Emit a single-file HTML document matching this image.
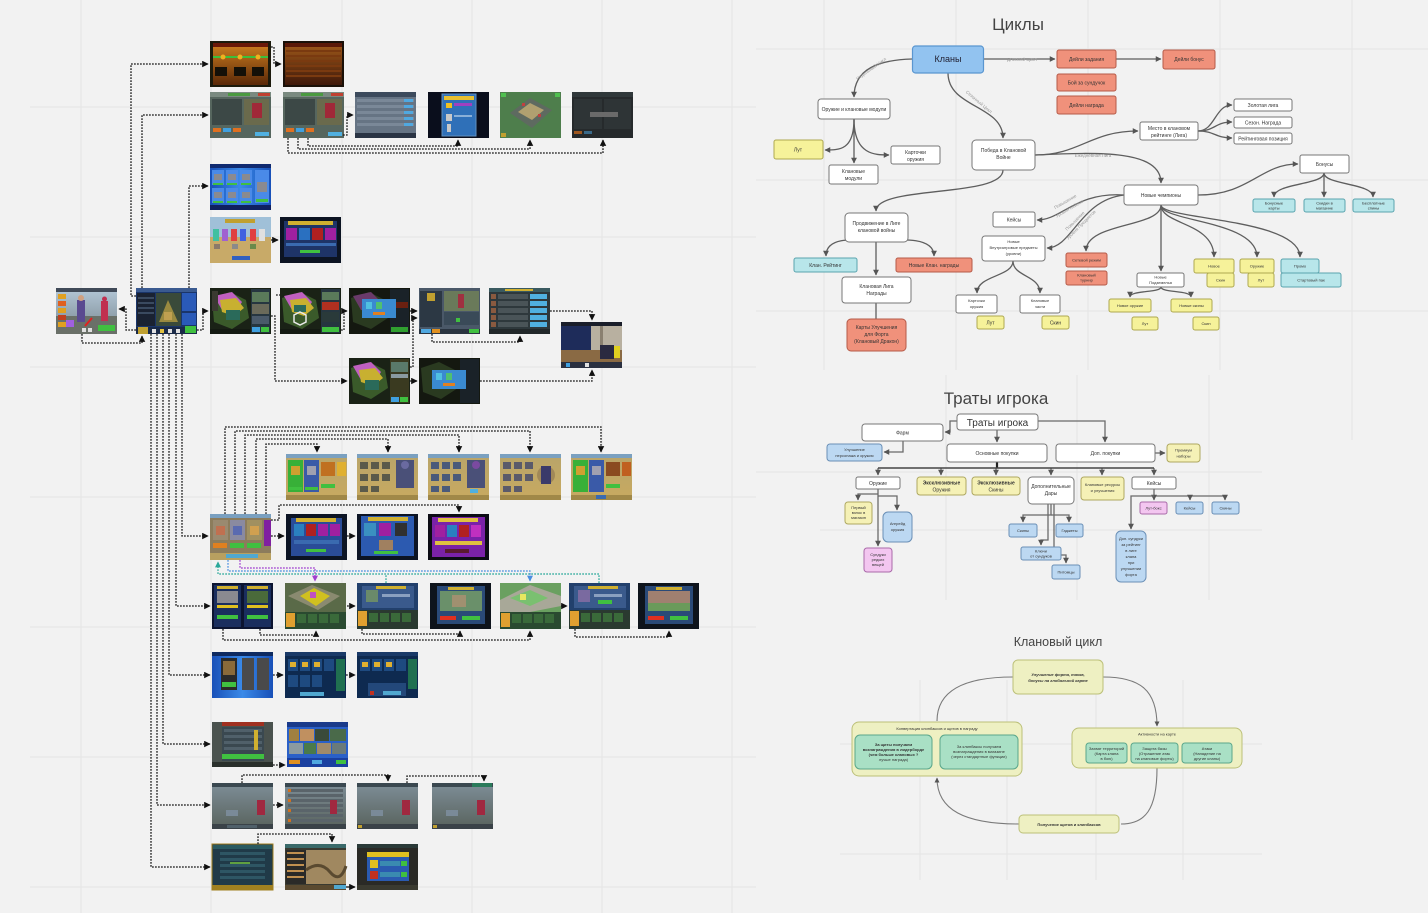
<!DOCTYPE html>
<html><head><meta charset="utf-8"><style>
html,body{margin:0;padding:0;background:#f2f2f2;}
svg{display:block;}
text{font-family:"Liberation Sans","DejaVu Sans",sans-serif;}
.g{stroke:#e4e4e4;stroke-width:1;}
.d{fill:none;stroke:#1a1a1a;stroke-width:1.3;stroke-dasharray:1.8 1.2;}
.c{fill:none;stroke:#5e5e5e;stroke-width:1.3;}
.t{fill:none;stroke:#6a6a6a;stroke-width:1.3;}
.k{fill:none;stroke:#7a7a7a;stroke-width:1.1;}
.w{fill:#fff;stroke:#777;stroke-width:1;}
.r{fill:#f0917b;stroke:#b55a48;stroke-width:1;}
.y{fill:#f6f29a;stroke:#aea850;stroke-width:1;}
.tl{fill:#b8e6ea;stroke:#5aa4ae;stroke-width:1;}
.b{fill:#bcd8f2;stroke:#6a8fb6;stroke-width:1;}
.p{fill:#f3c6f0;stroke:#a96aa9;stroke-width:1;}
.yl{fill:#f5f1b6;stroke:#aea860;stroke-width:1;}
.ol{fill:#eef0c2;stroke:#bcc078;stroke-width:1;}
.gr{fill:#a9e0c5;stroke:#5aa68a;stroke-width:1;}
.s{font-size:5px;fill:#333;text-anchor:middle;}
.s4{font-size:4px;fill:#333;text-anchor:middle;}
.lb{font-size:4.5px;fill:#999;text-anchor:middle;}
</style></head><body>
<svg width="1428" height="913" viewBox="0 0 1428 913" xmlns="http://www.w3.org/2000/svg">
<defs>
<marker id="a" viewBox="0 0 10 10" refX="9" refY="5" markerWidth="5" markerHeight="5" orient="auto"><path d="M0,0L10,5L0,10z" fill="#111"/></marker>
<marker id="ga" viewBox="0 0 10 10" refX="9" refY="5" markerWidth="4.5" markerHeight="4.5" orient="auto"><path d="M0,0L10,5L0,10z" fill="#555"/></marker>
<marker id="ta" viewBox="0 0 10 10" refX="9" refY="5" markerWidth="5" markerHeight="5" orient="auto"><path d="M0,0L10,5L0,10z" fill="#2aa89a"/></marker>
<marker id="ba" viewBox="0 0 10 10" refX="9" refY="5" markerWidth="5" markerHeight="5" orient="auto"><path d="M0,0L10,5L0,10z" fill="#4a8ee0"/></marker>
<marker id="pa" viewBox="0 0 10 10" refX="9" refY="5" markerWidth="5" markerHeight="5" orient="auto"><path d="M0,0L10,5L0,10z" fill="#a040d0"/></marker>
<linearGradient id="gOr" x1="0" y1="0" x2="0" y2="1"><stop offset="0" stop-color="#d08020"/><stop offset="1" stop-color="#5a2808"/></linearGradient>
<linearGradient id="gBr" x1="0" y1="0" x2="0" y2="1"><stop offset="0" stop-color="#a05a1a"/><stop offset="1" stop-color="#3e180a"/></linearGradient>
<linearGradient id="gSky" x1="0" y1="0" x2="0" y2="1"><stop offset="0" stop-color="#b4c8d8"/><stop offset="1" stop-color="#7a8890"/></linearGradient>
<linearGradient id="gFog" x1="0" y1="0" x2="0" y2="1"><stop offset="0" stop-color="#7e8e98"/><stop offset="1" stop-color="#58625c"/></linearGradient>
<linearGradient id="gSand" x1="0" y1="0" x2="0" y2="1"><stop offset="0" stop-color="#b8a46a"/><stop offset="1" stop-color="#c8aa60"/></linearGradient>
<linearGradient id="gBlue" x1="0" y1="0" x2="1" y2="0"><stop offset="0" stop-color="#1850b8"/><stop offset="0.5" stop-color="#3a8ae8"/><stop offset="1" stop-color="#1850b8"/></linearGradient>
</defs>

<!-- background grid -->
<g class="g">
<line x1="81" y1="0" x2="81" y2="913"/><line x1="211" y1="0" x2="211" y2="913"/><line x1="342" y1="0" x2="342" y2="913"/>
<line x1="472" y1="0" x2="472" y2="913"/><line x1="602" y1="0" x2="602" y2="913"/><line x1="732" y1="0" x2="732" y2="913"/>
<line x1="30" y1="107" x2="756" y2="107"/><line x1="30" y1="237" x2="756" y2="237"/><line x1="30" y1="367" x2="756" y2="367"/>
<line x1="30" y1="497" x2="756" y2="497"/><line x1="30" y1="627" x2="756" y2="627"/><line x1="30" y1="757" x2="756" y2="757"/>
<line x1="30" y1="887" x2="756" y2="887"/>
<line x1="824" y1="0" x2="824" y2="370"/><line x1="956" y1="0" x2="956" y2="370"/><line x1="1088" y1="0" x2="1088" y2="370"/>
<line x1="1220" y1="0" x2="1220" y2="370"/><line x1="1352" y1="0" x2="1352" y2="440"/>
<line x1="756" y1="49" x2="1428" y2="49"/><line x1="756" y1="180" x2="1428" y2="180"/><line x1="756" y1="311" x2="1428" y2="311"/>
<line x1="946" y1="375" x2="946" y2="600"/><line x1="1077" y1="375" x2="1077" y2="600"/><line x1="1209" y1="375" x2="1209" y2="600"/>
<line x1="756" y1="472" x2="1262" y2="472"/><line x1="820" y1="530" x2="1262" y2="530"/>
<line x1="920" y1="680" x2="920" y2="880"/><line x1="1007" y1="680" x2="1007" y2="880"/><line x1="1096" y1="680" x2="1096" y2="880"/><line x1="1183" y1="680" x2="1183" y2="880"/>
<line x1="840" y1="744" x2="1262" y2="744"/><line x1="840" y1="854" x2="1262" y2="854"/>
</g>

<!-- ================= SCREENSHOTS ================= -->
<!-- Row 1 -->
<rect x="210" y="41" width="61" height="46" fill="#1c1a0c"/>
<rect x="213" y="43" width="55" height="42" fill="url(#gOr)"/>
<rect x="213" y="43" width="55" height="4" fill="#6a1808"/>
<rect x="213" y="56" width="55" height="2" fill="#3cc03c"/>
<circle cx="223" cy="57" r="2.5" fill="#f0b020"/><circle cx="240" cy="57" r="2.5" fill="#f0b020"/><circle cx="258" cy="57" r="2.5" fill="#f0b020"/>
<rect x="215" y="67" width="12" height="9" fill="#141008"/><rect x="234" y="67" width="12" height="9" fill="#141008"/><rect x="252" y="67" width="12" height="9" fill="#141008"/>
<rect x="283" y="41" width="61" height="46" fill="#1a1008"/>
<rect x="285" y="43" width="57" height="42" fill="url(#gBr)"/>
<rect x="285" y="43" width="57" height="4" fill="#5a1808"/>
<g fill="#7a3a10"><rect x="286" y="50" width="55" height="2"/><rect x="286" y="55" width="55" height="2"/><rect x="286" y="60" width="55" height="2"/><rect x="286" y="65" width="55" height="2"/><rect x="286" y="70" width="55" height="2"/><rect x="286" y="75" width="55" height="2"/></g>

<!-- Row 2 -->
<g>
<rect x="210" y="92" width="61" height="46" fill="#56665e"/><rect x="210" y="92" width="61" height="5" fill="#7a8a80"/>
<rect x="228" y="93" width="22" height="3" fill="#4a9a40"/><rect x="258" y="93" width="12" height="3" fill="#c04030"/>
<rect x="212" y="99" width="30" height="26" fill="#3c4846"/><rect x="244" y="99" width="25" height="26" fill="#6a6a4c"/>
<rect x="252" y="103" width="10" height="15" fill="#a02838"/>
<rect x="213" y="128" width="8" height="4" fill="#e07020"/><rect x="223" y="128" width="8" height="4" fill="#40a0e0"/><rect x="233" y="128" width="8" height="4" fill="#e07020"/><rect x="255" y="132" width="14" height="4" fill="#50b0e0"/>
</g>
<g>
<rect x="283" y="92" width="61" height="46" fill="#56665e"/><rect x="283" y="92" width="61" height="5" fill="#7a8a80"/>
<rect x="301" y="93" width="22" height="3" fill="#4a9a40"/><rect x="331" y="93" width="12" height="3" fill="#c04030"/>
<rect x="285" y="99" width="30" height="26" fill="#3c4846"/><rect x="317" y="99" width="25" height="26" fill="#6a6a4c"/>
<rect x="325" y="103" width="10" height="15" fill="#a02838"/>
<rect x="286" y="128" width="8" height="4" fill="#e07020"/><rect x="296" y="128" width="8" height="4" fill="#40a0e0"/><rect x="306" y="128" width="8" height="4" fill="#e07020"/><rect x="328" y="132" width="14" height="4" fill="#50b0e0"/>
</g>
<g>
<rect x="355" y="92" width="61" height="46" fill="#667484"/><rect x="355" y="92" width="61" height="5" fill="#3c4a5c"/>
<g fill="#7a8898"><rect x="357" y="99" width="57" height="3"/><rect x="357" y="105" width="57" height="3"/><rect x="357" y="111" width="57" height="3"/><rect x="357" y="117" width="57" height="3"/><rect x="357" y="123" width="57" height="3"/></g>
<g fill="#50a8e0"><rect x="404" y="99" width="9" height="3"/><rect x="404" y="105" width="9" height="3"/><rect x="404" y="111" width="9" height="3"/><rect x="404" y="117" width="9" height="3"/><rect x="404" y="123" width="9" height="3"/></g>
<rect x="355" y="133" width="61" height="5" fill="#2a3444"/>
</g>
<g>
<rect x="428" y="92" width="61" height="46" fill="#0a0e1c"/>
<rect x="442" y="94" width="34" height="42" fill="#2f70b8" stroke="#6090c0"/>
<rect x="444" y="96" width="30" height="4" fill="#e8c030"/>
<rect x="446" y="103" width="6" height="5" fill="#f0c020"/><rect x="454" y="103" width="18" height="3" fill="#a040c0"/>
<rect x="446" y="114" width="6" height="7" fill="#c8c8c8"/><rect x="454" y="115" width="18" height="2" fill="#8ab0d8"/>
<rect x="447" y="124" width="4" height="8" fill="#c8c8c8"/>
</g>
<g>
<rect x="500" y="92" width="61" height="46" fill="#4e7e4c"/>
<polygon points="510,113 530,98 552,110 532,128" fill="#5e6a60"/>
<polygon points="518,112 530,103 544,110 532,120" fill="#b0a070"/>
<rect x="522" y="103" width="3" height="3" fill="#c04040"/><rect x="538" y="114" width="3" height="3" fill="#c04040"/>
<rect x="501" y="93" width="5" height="4" fill="#50c050"/><rect x="555" y="93" width="5" height="4" fill="#50c050"/><rect x="501" y="133" width="5" height="4" fill="#c0a030"/>
</g>
<g>
<rect x="572" y="92" width="61" height="46" fill="#262a2c"/><rect x="572" y="92" width="61" height="5" fill="#30383a"/>
<rect x="574" y="99" width="28" height="30" fill="#2e3436"/><rect x="604" y="99" width="27" height="30" fill="#2e3436"/>
<rect x="590" y="112" width="28" height="5" fill="#6a6a6a"/>
<rect x="574" y="131" width="8" height="3" fill="#a05820"/><rect x="584" y="131" width="8" height="3" fill="#3a6a8a"/>
</g>

<!-- Row 3 -->
<g>
<rect x="210" y="164" width="61" height="46" fill="url(#gBlue)"/><rect x="210" y="164" width="61" height="4" fill="#102a70"/>
<g fill="#4a8ae8"><rect x="212" y="170" width="12" height="15"/><rect x="226" y="170" width="12" height="15"/><rect x="240" y="170" width="12" height="15"/><rect x="212" y="188" width="12" height="15"/><rect x="226" y="188" width="12" height="15"/><rect x="240" y="188" width="12" height="15"/><rect x="255" y="170" width="14" height="33"/></g>
<g fill="#8a8a90"><rect x="214" y="174" width="8" height="6"/><rect x="228" y="174" width="8" height="6"/><rect x="242" y="174" width="8" height="6"/><rect x="214" y="192" width="8" height="6"/><rect x="228" y="192" width="8" height="6"/><rect x="242" y="192" width="8" height="6"/><rect x="257" y="182" width="10" height="10"/></g>
<g fill="#40c040"><rect x="213" y="183" width="10" height="2"/><rect x="227" y="183" width="10" height="2"/><rect x="241" y="183" width="10" height="2"/><rect x="213" y="201" width="10" height="2"/><rect x="227" y="201" width="10" height="2"/><rect x="241" y="201" width="10" height="2"/><rect x="256" y="199" width="12" height="3"/></g>
<rect x="210" y="205" width="61" height="5" fill="#102060"/>
</g>

<!-- Row 4 -->
<g>
<rect x="210" y="217" width="61" height="20" fill="#a0c0d8"/><rect x="210" y="237" width="61" height="26" fill="#c8aa68"/>
<rect x="225" y="219" width="30" height="4" fill="#c0a030"/>
<rect x="213" y="229" width="6" height="12" fill="#40c0a0"/><rect x="222" y="229" width="6" height="12" fill="#a060d0"/><rect x="231" y="229" width="6" height="12" fill="#e04040"/><rect x="240" y="229" width="6" height="12" fill="#4060e0"/><rect x="250" y="229" width="6" height="12" fill="#e04040"/><rect x="259" y="229" width="6" height="12" fill="#e0e0e0"/>
<rect x="214" y="244" width="6" height="5" fill="#8a7a6a"/><rect x="232" y="244" width="6" height="5" fill="#8a8a8a"/><rect x="250" y="244" width="6" height="5" fill="#6a8a4a"/>
<rect x="232" y="256" width="18" height="4" fill="#3060c0"/>
</g>
<g>
<rect x="280" y="217" width="61" height="46" fill="#0c1422"/><rect x="284" y="221" width="53" height="36" fill="#1e3468"/>
<rect x="288" y="221" width="45" height="4" fill="#d0b030"/>
<rect x="286" y="228" width="11" height="12" fill="#a020a0"/><rect x="299" y="228" width="11" height="12" fill="#2a70c0"/><rect x="312" y="228" width="11" height="12" fill="#b02020"/><rect x="325" y="228" width="11" height="12" fill="#a020a0"/>
<rect x="286" y="243" width="50" height="3" fill="#3a6ab0"/><rect x="300" y="250" width="20" height="3" fill="#40c040"/>
</g>

<!-- Row 5 lobby -->
<g>
<rect x="56" y="288" width="61" height="46" fill="url(#gSky)"/><rect x="56" y="316" width="61" height="18" fill="#6a7068"/><rect x="56" y="288" width="61" height="4" fill="#404a58"/>
<rect x="58" y="294" width="8" height="5" fill="#e0a020"/><rect x="58" y="301" width="8" height="5" fill="#e06020"/><rect x="58" y="308" width="8" height="5" fill="#e0a020"/><rect x="58" y="315" width="8" height="5" fill="#c04020"/><rect x="58" y="322" width="8" height="5" fill="#e0a020"/>
<rect x="77" y="300" width="8" height="22" fill="#5a4a90"/><circle cx="81" cy="298" r="3" fill="#d0a080"/>
<rect x="101" y="301" width="7" height="20" fill="#c03050"/><circle cx="104.5" cy="299" r="2.5" fill="#c03050"/>
<rect x="66" y="320" width="8" height="7" fill="#a060e0"/>
<line x1="92" y1="318" x2="85" y2="326" stroke="#e02020" stroke-width="2"/>
<rect x="98" y="325" width="17" height="6" fill="#40c040"/>
<rect x="82" y="328" width="4" height="4" fill="#e0e0e0"/><rect x="88" y="328" width="4" height="4" fill="#e0e0e0"/>
</g>
<!-- clan -->
<g>
<rect x="136" y="288" width="61" height="46" fill="#1a356a"/><rect x="136" y="288" width="61" height="4" fill="#3a5a90"/>
<rect x="137" y="293" width="18" height="33" fill="#1a2232"/>
<g fill="#3a4a60"><rect x="138" y="297" width="16" height="2"/><rect x="138" y="302" width="16" height="2"/><rect x="138" y="307" width="16" height="2"/><rect x="138" y="312" width="16" height="2"/></g>
<rect x="156" y="293" width="25" height="33" fill="#3a4a3a"/><polygon points="159,322 168,300 178,322" fill="#9a8a40"/><rect x="164" y="312" width="8" height="8" fill="#c0a050"/>
<rect x="182" y="293" width="14" height="18" fill="#2a5ab8"/><rect x="182" y="313" width="14" height="12" fill="#2a5ab8"/>
<rect x="136" y="327" width="61" height="7" fill="#1a2a48"/>
<rect x="138" y="327" width="10" height="7" fill="#c0a030"/><rect x="152" y="329" width="4" height="4" fill="#e0e0e0"/><rect x="160" y="329" width="4" height="4" fill="#e0c040"/><rect x="168" y="329" width="4" height="4" fill="#e0e0e0"/><rect x="176" y="329" width="4" height="4" fill="#e0e0e0"/>
<rect x="185" y="326" width="11" height="7" fill="#40c040"/>
</g>
<!-- map 1 -->
<g>
<rect x="210" y="288" width="61" height="46" fill="#1a2216"/>
<polygon points="212,298 230,292 246,300 249,318 232,329 214,322" fill="#3a5a2a"/>
<polygon points="214,296 232,292 242,302 236,312 222,310" fill="#c060c0"/>
<polygon points="220,300 236,298 244,308 234,316 222,312" fill="#c8b030"/>
<rect x="226" y="310" width="14" height="10" fill="#2a6a5a"/>
<rect x="212" y="291" width="6" height="20" fill="#3a3a30"/>
<rect x="251" y="289" width="19" height="44" fill="#263640"/>
<rect x="252" y="292" width="17" height="10" fill="#5a7a5a"/><rect x="252" y="304" width="17" height="10" fill="#6a6a5a"/><rect x="252" y="316" width="17" height="8" fill="#4a5a6a"/>
<rect x="252" y="327" width="8" height="5" fill="#40a0e0"/><rect x="261" y="327" width="8" height="5" fill="#40c040"/>
<rect x="210" y="329" width="40" height="5" fill="#141a12"/>
</g>
<!-- map 2 -->
<g>
<rect x="280" y="288" width="61" height="46" fill="#1a2216"/>
<polygon points="282,298 300,292 316,300 319,318 302,329 284,322" fill="#3a5a2a"/>
<polygon points="284,296 302,292 312,302 306,312 292,310" fill="#c060c0"/>
<polygon points="290,300 306,298 314,308 304,316 292,312" fill="#c8b030"/>
<rect x="294" y="305" width="12" height="7" fill="#2a6a5a"/>
<polygon points="300,312 306,315 306,322 300,325 294,322 294,315" fill="none" stroke="#e8e8e8" stroke-width="1.5"/>
<rect x="321" y="289" width="19" height="44" fill="#263640"/>
<rect x="322" y="292" width="17" height="8" fill="#5a7a5a"/><rect x="322" y="302" width="17" height="8" fill="#b03020"/><rect x="322" y="312" width="17" height="10" fill="#2a3a3a"/>
<rect x="322" y="327" width="17" height="5" fill="#40c040"/>
<rect x="280" y="329" width="40" height="5" fill="#141a12"/>
</g>
<!-- map 3 with popup -->
<g>
<rect x="349" y="288" width="61" height="46" fill="#141810"/>
<polygon points="351,298 369,292 385,300 388,318 371,329 353,322" fill="#2a3a20"/>
<polygon points="353,296 371,292 381,302 375,312 361,310" fill="#6a3a6a"/>
<rect x="390" y="289" width="19" height="44" fill="#1a2228"/>
<rect x="391" y="302" width="17" height="6" fill="#6a2010"/>
<rect x="362" y="299" width="34" height="19" fill="#3a8ad0"/>
<rect x="366" y="302" width="6" height="7" fill="#50c0e0"/><rect x="376" y="302" width="6" height="7" fill="#50c070"/>
<rect x="373" y="312" width="12" height="3" fill="#e08020"/>
<rect x="391" y="327" width="17" height="5" fill="#30a030"/>
</g>
<!-- row5 #6 -->
<g>
<rect x="419" y="288" width="61" height="46" fill="#4a5868"/>
<rect x="420" y="291" width="22" height="36" fill="#2c3844"/><rect x="427" y="293" width="8" height="8" fill="#c0a030"/>
<rect x="444" y="291" width="35" height="20" fill="#6a7a5a"/><rect x="458" y="294" width="6" height="14" fill="#a03040"/>
<rect x="444" y="312" width="35" height="13" fill="#3a4a58"/>
<rect x="456" y="318" width="4" height="4" fill="#40c040"/>
<rect x="419" y="329" width="61" height="5" fill="#2a3440"/>
<rect x="421" y="329" width="10" height="4" fill="#50a8e0"/><rect x="432" y="329" width="8" height="4" fill="#e09020"/><rect x="469" y="329" width="10" height="4" fill="#40c040"/>
</g>
<!-- row5 #7 -->
<g>
<rect x="489" y="288" width="61" height="46" fill="#2e383c"/><rect x="489" y="288" width="61" height="4" fill="#3a5a60"/>
<rect x="505" y="289" width="28" height="2" fill="#d0b030"/>
<g fill="#8a5a40"><rect x="491" y="294" width="5" height="5"/><rect x="491" y="301" width="5" height="5"/><rect x="491" y="308" width="5" height="5"/><rect x="491" y="315" width="5" height="5"/><rect x="491" y="322" width="5" height="5"/></g>
<g fill="#4a5458"><rect x="498" y="294" width="30" height="5"/><rect x="498" y="301" width="30" height="5"/><rect x="498" y="308" width="30" height="5"/><rect x="498" y="315" width="30" height="5"/><rect x="498" y="322" width="30" height="5"/></g>
<g fill="#50b0e0"><rect x="530" y="294" width="17" height="5"/><rect x="530" y="301" width="17" height="5"/><rect x="530" y="308" width="17" height="5"/><rect x="530" y="315" width="17" height="5"/><rect x="530" y="322" width="17" height="5"/></g>
<rect x="489" y="329" width="61" height="5" fill="#22282a"/>
</g>
<!-- last interior -->
<g>
<rect x="561" y="322" width="61" height="46" fill="#2a3250"/>
<rect x="561" y="322" width="61" height="4" fill="#1a1e2a"/>
<rect x="561" y="326" width="30" height="24" fill="#1e2c5a"/>
<rect x="591" y="326" width="31" height="24" fill="#b8b0a0"/><rect x="600" y="326" width="3" height="24" fill="#8a8070"/>
<rect x="561" y="350" width="61" height="12" fill="#8a6a44"/>
<rect x="600" y="345" width="14" height="14" fill="#2a2a40"/><rect x="614" y="346" width="6" height="12" fill="#e0d020"/>
<rect x="561" y="362" width="61" height="6" fill="#2a3040"/>
<rect x="566" y="363" width="4" height="4" fill="#40a0e0"/><rect x="585" y="363" width="4" height="4" fill="#e0e0e0"/>
</g>
<!-- row 5b -->
<g>
<rect x="349" y="358" width="61" height="46" fill="#1a2216"/>
<polygon points="351,368 369,362 385,370 388,388 371,399 353,392" fill="#3a5a2a"/>
<polygon points="353,366 371,362 381,372 375,382 361,380" fill="#c060c0"/>
<polygon points="359,370 375,368 383,378 373,386 361,382" fill="#c8b030"/>
<rect x="365" y="380" width="14" height="10" fill="#2a6a5a"/>
<rect x="390" y="359" width="19" height="44" fill="#3a3a20"/>
<rect x="391" y="362" width="17" height="10" fill="#5a7a6a"/><rect x="391" y="374" width="17" height="4" fill="#8a9aa0"/>
<rect x="391" y="397" width="8" height="5" fill="#40a0e0"/><rect x="400" y="397" width="8" height="5" fill="#40c040"/>
</g>
<g>
<rect x="419" y="358" width="61" height="46" fill="#141810"/>
<polygon points="421,368 439,362 455,370 458,388 441,399 423,392" fill="#2a3a20"/>
<rect x="460" y="359" width="19" height="44" fill="#1a2228"/>
<rect x="432" y="370" width="34" height="19" fill="#3a8ad0"/>
<rect x="436" y="373" width="6" height="7" fill="#50c0e0"/><rect x="446" y="373" width="6" height="7" fill="#50c070"/>
<rect x="443" y="383" width="12" height="3" fill="#e08020"/>
</g>

<!-- Row 6 -->
<g>
<rect x="286" y="454" width="61" height="46" fill="url(#gSand)"/><rect x="286" y="454" width="61" height="4" fill="#7aa0c0"/>
<rect x="288" y="460" width="15" height="32" fill="#38b038"/><rect x="304" y="460" width="15" height="32" fill="#3a5aa8"/>
<rect x="291" y="466" width="9" height="9" fill="#d0a030"/><rect x="307" y="466" width="9" height="9" fill="#a0a0b0"/>
<rect x="321" y="462" width="14" height="14" fill="#c07020"/><rect x="337" y="462" width="9" height="14" fill="#e0b030"/>
<rect x="321" y="484" width="14" height="4" fill="#40c040"/><rect x="289" y="487" width="13" height="3" fill="#40c040"/><rect x="305" y="487" width="13" height="3" fill="#40c040"/>
<rect x="286" y="495" width="61" height="5" fill="#a08848"/>
</g>
<g>
<rect x="357" y="454" width="61" height="46" fill="url(#gSand)"/><rect x="357" y="454" width="61" height="4" fill="#7aa0c0"/>
<g fill="#5a5a4a"><rect x="360" y="462" width="8" height="7"/><rect x="371" y="462" width="8" height="7"/><rect x="382" y="462" width="8" height="7"/><rect x="360" y="474" width="8" height="7"/><rect x="371" y="474" width="8" height="7"/><rect x="382" y="474" width="8" height="7"/><rect x="360" y="486" width="8" height="6"/><rect x="371" y="486" width="8" height="6"/></g>
<rect x="396" y="460" width="18" height="28" fill="#4a5078"/><circle cx="405" cy="465" r="4" fill="#6a6aa0"/>
<rect x="357" y="495" width="61" height="5" fill="#a08848"/>
</g>
<g>
<rect x="428" y="454" width="61" height="46" fill="url(#gSand)"/><rect x="428" y="454" width="61" height="4" fill="#7aa0c0"/>
<g fill="#4a5a7a"><rect x="431" y="462" width="8" height="7"/><rect x="442" y="462" width="8" height="7"/><rect x="453" y="462" width="8" height="7"/><rect x="431" y="474" width="8" height="7"/><rect x="442" y="474" width="8" height="7"/><rect x="453" y="474" width="8" height="7"/><rect x="431" y="486" width="8" height="6"/><rect x="442" y="486" width="8" height="6"/></g>
<rect x="467" y="460" width="18" height="28" fill="#4a5078"/><circle cx="476" cy="465" r="4" fill="#7a4aa0"/>
<rect x="470" y="489" width="8" height="4" fill="#50b0e0"/>
<rect x="428" y="495" width="61" height="5" fill="#a08848"/>
</g>
<g>
<rect x="500" y="454" width="61" height="46" fill="url(#gSand)"/><rect x="500" y="454" width="61" height="4" fill="#7aa0c0"/>
<g fill="#5a5a6a"><rect x="503" y="462" width="8" height="7"/><rect x="514" y="462" width="8" height="7"/><rect x="525" y="462" width="8" height="7"/><rect x="503" y="474" width="8" height="7"/><rect x="514" y="474" width="8" height="7"/><rect x="525" y="474" width="8" height="7"/><rect x="503" y="486" width="8" height="6"/><rect x="514" y="486" width="8" height="6"/></g>
<circle cx="546" cy="475" r="9" fill="#a08858"/><rect x="541" y="466" width="10" height="18" fill="#3a3a6a"/>
<rect x="500" y="495" width="61" height="5" fill="#a08848"/>
</g>
<g>
<rect x="571" y="454" width="61" height="46" fill="url(#gSand)"/><rect x="571" y="454" width="61" height="4" fill="#7aa0c0"/>
<rect x="573" y="460" width="15" height="32" fill="#38b038"/><rect x="589" y="460" width="15" height="32" fill="#3a5aa8"/>
<rect x="576" y="466" width="9" height="9" fill="#d0a030"/><rect x="592" y="466" width="9" height="9" fill="#a0a0b0"/>
<rect x="606" y="462" width="14" height="14" fill="#8a4a20"/><rect x="622" y="462" width="9" height="14" fill="#c06020"/>
<rect x="606" y="484" width="14" height="4" fill="#40c040"/>
<rect x="571" y="495" width="61" height="5" fill="#a08848"/><rect x="596" y="495" width="10" height="4" fill="#3a6ab0"/>
</g>

<!-- Row 7 -->
<g>
<rect x="210" y="514" width="61" height="46" fill="#8c7c5c"/><rect x="210" y="514" width="61" height="4" fill="#7aa0c0"/>
<rect x="213" y="520" width="15" height="20" fill="#9a8a70"/><rect x="230" y="520" width="15" height="20" fill="#8a8aa0"/><rect x="247" y="520" width="15" height="20" fill="#a09060"/>
<rect x="216" y="526" width="9" height="9" fill="#c07050"/><rect x="233" y="526" width="9" height="9" fill="#5a6ab0"/><rect x="250" y="526" width="9" height="9" fill="#d0a050"/>
<rect x="264" y="520" width="7" height="26" fill="#8020a0"/>
<rect x="213" y="543" width="14" height="5" fill="#e08020"/><rect x="230" y="543" width="14" height="5" fill="#40c040"/><rect x="247" y="543" width="14" height="5" fill="#40c040"/>
<rect x="210" y="553" width="61" height="7" fill="#b8a060"/><rect x="226" y="554" width="32" height="4" fill="#50a8d0"/>
</g>
<g>
<rect x="286" y="514" width="61" height="46" fill="#0c1424"/><rect x="291" y="518" width="51" height="38" fill="#2a4c98"/>
<rect x="296" y="518" width="40" height="4" fill="#d0b030"/>
<rect x="294" y="524" width="10" height="12" fill="#2a80c0"/><rect x="306" y="524" width="10" height="12" fill="#b02020"/><rect x="318" y="524" width="10" height="12" fill="#a020a0"/><rect x="330" y="524" width="10" height="12" fill="#a020a0"/>
<rect x="294" y="540" width="45" height="4" fill="#3a6ab0"/><rect x="306" y="549" width="20" height="3" fill="#40c040"/>
</g>
<g>
<rect x="357" y="514" width="61" height="46" fill="#0c1424"/><rect x="361" y="516" width="53" height="40" fill="#2c5ab0"/>
<rect x="368" y="517" width="40" height="4" fill="#d0b030"/>
<rect x="364" y="523" width="12" height="13" fill="#3a90c0"/><rect x="379" y="523" width="12" height="13" fill="#a020a0"/><rect x="395" y="523" width="12" height="13" fill="#303030"/>
<rect x="379" y="540" width="14" height="10" fill="#a08060"/><rect x="374" y="551" width="24" height="3" fill="#40c040"/>
</g>
<g>
<rect x="428" y="514" width="61" height="46" fill="#0c0c14"/><rect x="432" y="517" width="53" height="40" fill="#7a22a8"/>
<rect x="438" y="518" width="40" height="4" fill="#e0c040"/>
<rect x="435" y="525" width="10" height="12" fill="#a020a0"/><rect x="447" y="525" width="10" height="12" fill="#2a80c0"/><rect x="459" y="525" width="10" height="12" fill="#b02020"/><rect x="471" y="525" width="10" height="12" fill="#c030c0"/>
<rect x="435" y="541" width="47" height="4" fill="#e0c040"/><rect x="445" y="549" width="24" height="4" fill="#5a1a30"/>
</g>

<!-- Row 8 -->
<g>
<rect x="212" y="583" width="61" height="46" fill="#0c1430"/>
<rect x="214" y="585" width="27" height="42" fill="#1a2e5e"/><rect x="244" y="585" width="27" height="42" fill="#1a2e5e"/>
<rect x="217" y="586" width="21" height="3" fill="#d0b030"/><rect x="247" y="586" width="21" height="3" fill="#d0b030"/>
<rect x="217" y="591" width="21" height="12" fill="#8a8a90"/><rect x="247" y="591" width="21" height="12" fill="#4a6a3a"/>
<rect x="217" y="605" width="21" height="3" fill="#e0c020"/><rect x="247" y="605" width="21" height="3" fill="#e0c020"/>
<rect x="217" y="615" width="21" height="4" fill="#40c040"/><rect x="247" y="615" width="21" height="4" fill="#40c040"/>
</g>
<g>
<rect x="285" y="583" width="61" height="46" fill="#5a6a48"/>
<polygon points="288,596 312,585 340,596 318,610" fill="#8a8a70"/>
<polygon points="300,596 314,588 330,596 316,606" fill="#d0c020"/>
<rect x="310" y="592" width="6" height="6" fill="#c050c0"/>
<rect x="285" y="612" width="61" height="17" fill="#2a4a30"/>
<rect x="286" y="613" width="9" height="14" fill="#e0a030"/><rect x="297" y="614" width="9" height="9" fill="#3a6a3a"/><rect x="308" y="614" width="9" height="9" fill="#3a6a3a"/><rect x="319" y="614" width="9" height="9" fill="#3a6a3a"/><rect x="330" y="614" width="9" height="9" fill="#3a6a3a"/>
</g>
<g>
<rect x="357" y="583" width="61" height="46" fill="#22406c"/><rect x="362" y="586" width="52" height="22" fill="#3a5a8c"/>
<rect x="376" y="586" width="30" height="3" fill="#d0b030"/>
<rect x="366" y="590" width="12" height="12" fill="#6a8a6a"/><rect x="382" y="594" width="28" height="3" fill="#8aa0c0"/>
<rect x="357" y="610" width="61" height="19" fill="#2a3a30"/>
<rect x="358" y="611" width="9" height="15" fill="#e0a030"/><rect x="369" y="613" width="9" height="9" fill="#3a6a3a"/><rect x="380" y="613" width="9" height="9" fill="#3a6a3a"/><rect x="391" y="613" width="9" height="9" fill="#3a6a3a"/><rect x="402" y="613" width="9" height="9" fill="#3a6a3a"/>
</g>
<g>
<rect x="430" y="583" width="61" height="46" fill="#0e141c"/><rect x="437" y="586" width="48" height="38" fill="#2a4a78"/>
<rect x="448" y="587" width="26" height="3" fill="#d0b030"/>
<rect x="440" y="591" width="42" height="20" fill="#6a906a"/><rect x="452" y="595" width="14" height="12" fill="#a09070"/>
<rect x="440" y="616" width="16" height="4" fill="#e03020"/><rect x="462" y="616" width="18" height="4" fill="#40c040"/>
</g>
<g>
<rect x="500" y="583" width="61" height="46" fill="#6aa060"/>
<polygon points="500,600 530,585 561,596 561,606 530,612 500,612" fill="#a8a898"/>
<polygon points="510,598 530,590 548,598 530,606" fill="#7ac070"/>
<rect x="520" y="594" width="6" height="6" fill="#e8e860"/>
<rect x="500" y="612" width="61" height="17" fill="#2a4a30"/>
<rect x="501" y="613" width="9" height="14" fill="#e0a030"/><rect x="512" y="614" width="9" height="9" fill="#3a6a3a"/><rect x="523" y="614" width="9" height="9" fill="#3a6a3a"/><rect x="534" y="614" width="9" height="9" fill="#3a6a3a"/><rect x="545" y="614" width="9" height="9" fill="#3a6a3a"/>
</g>
<g>
<rect x="569" y="583" width="61" height="46" fill="#22406c"/><rect x="574" y="586" width="52" height="22" fill="#3a5a8c"/>
<rect x="588" y="586" width="30" height="3" fill="#d0b030"/>
<rect x="578" y="590" width="12" height="12" fill="#7a6aa0"/><rect x="594" y="594" width="28" height="3" fill="#8aa0c0"/><rect x="598" y="600" width="14" height="4" fill="#40c040"/>
<rect x="569" y="610" width="61" height="19" fill="#2a3a30"/>
<rect x="570" y="611" width="9" height="15" fill="#e0a030"/><rect x="581" y="613" width="9" height="9" fill="#3a6a3a"/><rect x="592" y="613" width="9" height="9" fill="#3a6a3a"/><rect x="603" y="613" width="9" height="9" fill="#3a6a3a"/><rect x="614" y="613" width="9" height="9" fill="#3a6a3a"/>
</g>
<g>
<rect x="638" y="583" width="61" height="46" fill="#0e141c"/><rect x="645" y="586" width="48" height="38" fill="#2a4a78"/>
<rect x="656" y="587" width="26" height="3" fill="#d0b030"/>
<rect x="648" y="591" width="42" height="20" fill="#a08070"/><rect x="648" y="603" width="42" height="8" fill="#6a9a5a"/>
<rect x="648" y="616" width="16" height="4" fill="#e03020"/><rect x="670" y="616" width="18" height="4" fill="#40c040"/>
</g>

<!-- Row 9 -->
<g>
<rect x="212" y="652" width="61" height="46" fill="url(#gBlue)"/><rect x="212" y="652" width="61" height="4" fill="#0e2a60"/>
<rect x="221" y="658" width="16" height="32" fill="#2a2a2a"/><rect x="223" y="661" width="12" height="14" fill="#8a6a3a"/>
<rect x="242" y="658" width="12" height="32" fill="#4a4a4a"/><rect x="257" y="658" width="12" height="32" fill="#4a4a4a"/>
<rect x="222" y="682" width="14" height="5" fill="#40c040"/>
</g>
<g>
<rect x="285" y="652" width="61" height="46" fill="#0e2a50"/><rect x="285" y="652" width="61" height="4" fill="#1a3a68"/>
<g fill="#1e4a80"><rect x="288" y="659" width="10" height="12"/><rect x="300" y="659" width="10" height="12"/><rect x="312" y="659" width="10" height="12"/><rect x="324" y="659" width="10" height="12"/><rect x="288" y="675" width="10" height="12"/><rect x="300" y="675" width="10" height="12"/><rect x="312" y="675" width="10" height="12"/></g>
<rect x="290" y="662" width="6" height="5" fill="#e0b030"/><rect x="302" y="662" width="6" height="5" fill="#e0b030"/><rect x="314" y="662" width="6" height="5" fill="#e0b030"/>
<rect x="336" y="659" width="9" height="32" fill="#207050"/>
<rect x="300" y="692" width="24" height="4" fill="#50a8d0"/>
</g>
<g>
<rect x="357" y="652" width="61" height="46" fill="#0e2a50"/><rect x="357" y="652" width="61" height="4" fill="#1a3a68"/>
<g fill="#1e4a80"><rect x="360" y="659" width="10" height="12"/><rect x="372" y="659" width="10" height="12"/><rect x="384" y="659" width="10" height="12"/><rect x="396" y="659" width="10" height="12"/></g>
<rect x="362" y="662" width="6" height="5" fill="#e0b030"/><rect x="374" y="662" width="6" height="5" fill="#e0b030"/><rect x="386" y="662" width="6" height="5" fill="#e0b030"/>
<rect x="408" y="659" width="9" height="30" fill="#207050"/>
<rect x="368" y="683" width="38" height="13" fill="#23487a"/><rect x="370" y="691" width="4" height="4" fill="#c03020"/><rect x="383" y="691" width="18" height="4" fill="#50a8d0"/>
</g>

<!-- Row 10 -->
<g>
<rect x="212" y="722" width="61" height="45" fill="#4a524e"/><rect x="222" y="722" width="42" height="4" fill="#a03020"/>
<rect x="222" y="727" width="42" height="34" fill="#3a4850"/>
<g fill="#50606a"><rect x="224" y="729" width="38" height="3"/><rect x="224" y="735" width="38" height="3"/><rect x="224" y="741" width="38" height="3"/><rect x="224" y="747" width="38" height="3"/></g>
<rect x="254" y="730" width="4" height="20" fill="#d0b030"/>
<rect x="222" y="754" width="42" height="5" fill="#40c040"/>
<rect x="212" y="762" width="61" height="5" fill="#2a302c"/>
</g>
<g>
<rect x="287" y="722" width="61" height="45" fill="#2a60c8"/><rect x="287" y="722" width="61" height="5" fill="#1a3a8a"/>
<rect x="289" y="729" width="10" height="12" fill="#a08040"/><rect x="300" y="729" width="14" height="12" fill="#c09060"/><rect x="315" y="729" width="14" height="12" fill="#3a4a3a"/><rect x="330" y="729" width="16" height="12" fill="#4a6a4a"/>
<rect x="289" y="743" width="14" height="11" fill="#8a9aa0"/><rect x="304" y="743" width="12" height="11" fill="#4a7a4a"/><rect x="317" y="743" width="14" height="11" fill="#a08a6a"/><rect x="332" y="743" width="14" height="11" fill="#6a7a7a"/>
<rect x="287" y="758" width="61" height="9" fill="#1a40a0"/><rect x="289" y="760" width="11" height="4" fill="#e09020"/><rect x="312" y="760" width="10" height="4" fill="#50a8e0"/><rect x="336" y="760" width="10" height="4" fill="#40c040"/>
</g>

<!-- Row 11 -->
<g>
<rect x="212" y="783" width="61" height="46" fill="url(#gFog)"/><rect x="212" y="783" width="61" height="4" fill="#3a4850"/>
<rect x="257" y="800" width="8" height="15" fill="#a02840"/><rect x="226" y="810" width="12" height="6" fill="#7a8a98"/>
<rect x="212" y="824" width="61" height="5" fill="#3a4248"/><rect x="227" y="825" width="30" height="3" fill="#50606a"/>
</g>
<g>
<rect x="285" y="783" width="61" height="46" fill="url(#gFog)"/><rect x="285" y="783" width="61" height="4" fill="#3a4850"/>
<g fill="#5a646a"><rect x="288" y="789" width="55" height="3"/><rect x="288" y="794" width="55" height="3"/><rect x="288" y="799" width="55" height="3"/><rect x="288" y="804" width="55" height="3"/><rect x="288" y="809" width="55" height="3"/><rect x="288" y="814" width="55" height="3"/><rect x="288" y="819" width="55" height="3"/></g>
<g fill="#d07020"><rect x="288" y="789" width="3" height="3"/><rect x="288" y="799" width="3" height="3"/><rect x="288" y="809" width="3" height="3"/><rect x="288" y="819" width="3" height="3"/></g>
<rect x="330" y="800" width="7" height="14" fill="#a02840"/>
<rect x="285" y="824" width="61" height="5" fill="#3a4248"/>
</g>
<g>
<rect x="357" y="783" width="61" height="46" fill="url(#gFog)"/><rect x="357" y="783" width="61" height="4" fill="#3a4850"/>
<rect x="402" y="800" width="8" height="15" fill="#a02840"/><rect x="371" y="810" width="12" height="6" fill="#7a8a98"/>
<rect x="357" y="824" width="61" height="5" fill="#3a4248"/><rect x="358" y="825" width="4" height="3" fill="#c0a030"/>
</g>
<g>
<rect x="432" y="783" width="61" height="46" fill="url(#gFog)"/><rect x="432" y="783" width="61" height="4" fill="#3a4850"/><rect x="472" y="783" width="20" height="4" fill="#2a7a5a"/>
<rect x="477" y="800" width="8" height="15" fill="#a02840"/><rect x="446" y="810" width="12" height="6" fill="#7a8a98"/>
<rect x="432" y="824" width="61" height="5" fill="#3a4248"/><rect x="433" y="825" width="4" height="3" fill="#c0a030"/>
</g>

<!-- Row 12 -->
<g>
<rect x="212" y="844" width="61" height="46" fill="#203a48" stroke="#a08020" stroke-width="1"/>
<rect x="213" y="845" width="59" height="4" fill="#2a5a60"/>
<g fill="#2e5664"><rect x="220" y="852" width="45" height="3"/><rect x="220" y="858" width="45" height="3"/><rect x="220" y="864" width="45" height="3"/><rect x="220" y="870" width="45" height="3"/><rect x="220" y="876" width="45" height="3"/></g>
<rect x="230" y="862" width="20" height="2" fill="#60a040"/>
<rect x="212" y="885" width="61" height="5" fill="#a08020"/>
</g>
<g>
<rect x="285" y="844" width="61" height="46" fill="#3a3a30"/><rect x="285" y="844" width="61" height="4" fill="#3a6a6a"/>
<rect x="286" y="850" width="20" height="34" fill="#2a2a28"/>
<g fill="#c09050"><rect x="287" y="852" width="17" height="2"/><rect x="287" y="858" width="17" height="2"/><rect x="287" y="864" width="17" height="2"/><rect x="287" y="870" width="17" height="2"/><rect x="287" y="876" width="17" height="2"/></g>
<rect x="306" y="850" width="40" height="34" fill="#a08860"/><path d="M306,870 Q320,860 330,872 T346,866" stroke="#5a4a30" stroke-width="3" fill="none"/>
<rect x="285" y="885" width="61" height="5" fill="#5a4a30"/><rect x="334" y="885" width="12" height="4" fill="#50a8d0"/>
</g>
<g>
<rect x="357" y="844" width="61" height="46" fill="#2a2a26"/><rect x="357" y="844" width="61" height="4" fill="#2a3a38"/>
<rect x="367" y="852" width="42" height="29" fill="#2a5ab0"/><rect x="367" y="852" width="42" height="5" fill="#e0c020"/>
<rect x="370" y="860" width="8" height="8" fill="#e0c020"/><rect x="380" y="861" width="20" height="5" fill="#3a8ab0"/><rect x="401" y="861" width="6" height="5" fill="#40c040"/>
<rect x="370" y="871" width="8" height="8" fill="#c03020"/><rect x="380" y="872" width="20" height="5" fill="#3a8ab0"/><rect x="401" y="872" width="6" height="5" fill="#40c040"/>
<rect x="357" y="885" width="61" height="5" fill="#3a3a30"/>
</g>

<!-- ================= LEFT CONNECTORS ================= -->
<g class="d">
<path d="M136,296 H131 V64 H208" marker-end="url(#a)"/>
<path d="M142,288 V115 H208" marker-end="url(#a)"/>
<path d="M189,288 V186 H208" marker-end="url(#a)"/>
<path d="M136,330 H126 V309 H119" marker-end="url(#a)"/>
<path d="M82,334 V343 H142 V336" marker-end="url(#a)"/>
<path d="M197,330 H203 V311 H208" marker-end="url(#a)"/>
<path d="M271,316 H275 V381 H347" marker-end="url(#a)"/>
<path d="M276,295 H280"/>
<path d="M341,330 H344 V311 H347" marker-end="url(#a)"/>
<path d="M410,311 H417" marker-end="url(#a)"/>
<path d="M410,367 H413 V318 H417" marker-end="url(#a)"/>
<path d="M410,381 H417" marker-end="url(#a)"/>
<path d="M432,334 V342 H520 V336" marker-end="url(#a)"/>
<path d="M550,311 H592 V320" marker-end="url(#a)"/>
<path d="M480,381 H592 V370" marker-end="url(#a)"/>
<path d="M271,47 H274 V64 H281" marker-end="url(#a)"/>
<path d="M343,135 H347 V115 H353" marker-end="url(#a)"/>
<path d="M308,138 V146 H458 V140" marker-end="url(#a)"/>
<path d="M298,138 V149 H530 V140" marker-end="url(#a)"/>
<path d="M288,138 V153 H603 V140" marker-end="url(#a)"/>
<path d="M271,240 H278" marker-end="url(#a)"/>
<path d="M182,334 V536 H208" marker-end="url(#a)"/>
<path d="M176,334 V606 H210" marker-end="url(#a)"/>
<path d="M169,334 V675 H210" marker-end="url(#a)"/>
<path d="M163,334 V744 H210" marker-end="url(#a)"/>
<path d="M157,334 V805 H210" marker-end="url(#a)"/>
<path d="M151,334 V867 H210" marker-end="url(#a)"/>
<path d="M225,514 V427 H601 V452" marker-end="url(#a)"/>
<path d="M235,514 V431 H530 V452" marker-end="url(#a)"/>
<path d="M245,514 V435 H459 V452" marker-end="url(#a)"/>
<path d="M256,514 V439 H388 V452" marker-end="url(#a)"/>
<path d="M266,514 V444 H317 V452" marker-end="url(#a)"/>
<path d="M271,520 H279 V505 H459 V512" marker-end="url(#a)"/>
<path d="M271,536 H284" marker-end="url(#a)"/>
<path d="M347,536 H355" marker-end="url(#a)"/>
<path d="M223,629 V640 H530 V631" marker-end="url(#a)"/>
<path d="M260,629 V635 H316 V631" marker-end="url(#a)"/>
<path d="M347,606 H355" marker-end="url(#a)"/>
<path d="M362,629 V634 H460 V631" marker-end="url(#a)"/>
<path d="M561,606 H567" marker-end="url(#a)"/>
<path d="M575,629 V637 H669 V631" marker-end="url(#a)"/>
<path d="M273,675 H283" marker-end="url(#a)"/>
<path d="M346,675 H355" marker-end="url(#a)"/>
<path d="M273,765 H285" marker-end="url(#a)"/>
<path d="M273,805 H283" marker-end="url(#a)"/>
<path d="M242,783 V775 H388 V781" marker-end="url(#a)"/>
<path d="M407,783 V776 H484 V781" marker-end="url(#a)"/>
<path d="M258,844 V834 H332 V842" marker-end="url(#a)"/>
</g>
<path d="M346,887 H355" stroke="#111" stroke-width="1.3" fill="none" marker-end="url(#a)"/>
<g fill="none" stroke-width="1.2" stroke-dasharray="1.8 1.2">
<path d="M599,583 V574 H218 V562" stroke="#2aa89a" marker-end="url(#ta)"/>
<path d="M386,583 V574" stroke="#2aa89a"/>
<path d="M228,560 V571 H530 V581" stroke="#4a8ee0" marker-end="url(#ba)"/>
<path d="M240,560 V568 H315 V581" stroke="#a040d0" marker-end="url(#pa)"/>
</g>

<!-- ================= ЦИКЛЫ ================= -->
<text x="1018" y="30" font-size="17" fill="#444" text-anchor="middle">Циклы</text>
<g class="c">
<path d="M984,59 H1055" marker-end="url(#ga)"/>
<path d="M1116,59 H1161" marker-end="url(#ga)"/>
<path d="M912,59 C880,60 854,68 854,97" marker-end="url(#ga)"/>
<path d="M948,73 C948,108 1003,105 1003,138" marker-end="url(#ga)"/>
<path d="M854,119 C854,150 840,150 825,150" marker-end="url(#ga)"/>
<path d="M854,119 V163" marker-end="url(#ga)"/>
<path d="M854,119 C854,155 875,155 889,155" marker-end="url(#ga)"/>
<path d="M1035,155 C1080,155 1090,131 1138,131" marker-end="url(#ga)"/>
<path d="M1198,131 C1215,131 1215,105 1232,105" marker-end="url(#ga)"/>
<path d="M1198,131 C1215,131 1215,122 1232,122" marker-end="url(#ga)"/>
<path d="M1198,131 C1215,131 1215,138 1232,138" marker-end="url(#ga)"/>
<path d="M1035,155 C1100,152 1161,150 1161,183" marker-end="url(#ga)"/>
<path d="M1003,170 C1003,198 876,185 876,211" marker-end="url(#ga)"/>
<path d="M876,242 C850,238 826,238 826,256" marker-end="url(#ga)"/>
<path d="M876,242 C905,238 934,238 934,256" marker-end="url(#ga)"/>
<path d="M876,242 V275" marker-end="url(#ga)"/>
<path d="M876,303 V319"/>
<path d="M1198,195 C1250,195 1260,164 1298,164" marker-end="url(#ga)"/>
<path d="M1324,173 C1324,185 1274,183 1274,197" marker-end="url(#ga)"/>
<path d="M1324,173 V197" marker-end="url(#ga)"/>
<path d="M1324,173 C1324,185 1373,183 1373,197" marker-end="url(#ga)"/>
<path d="M1124,195 C1075,192 1062,220 1037,220" marker-end="url(#ga)"/>
<path d="M1124,195 C1080,200 1072,248 1047,248" marker-end="url(#ga)"/>
<path d="M1013,261 C1013,277 977,275 977,293" marker-end="url(#ga)"/>
<path d="M1013,261 C1013,277 1040,275 1040,293" marker-end="url(#ga)"/>
<path d="M1161,205 C1161,228 1086,222 1086,251" marker-end="url(#ga)"/>
<path d="M1161,205 V271" marker-end="url(#ga)"/>
<path d="M1161,205 C1161,225 1214,222 1214,257" marker-end="url(#ga)"/>
<path d="M1161,205 C1161,222 1257,220 1257,257" marker-end="url(#ga)"/>
<path d="M1161,205 C1161,220 1300,218 1300,257" marker-end="url(#ga)"/>
<path d="M1161,287 C1161,293 1130,290 1130,297" marker-end="url(#ga)"/>
<path d="M1161,287 C1161,293 1191,290 1191,297" marker-end="url(#ga)"/>
</g>
<text class="lb" x="1022" y="61">Дневной Цикл</text>
<text class="lb" x="0" y="0" transform="translate(872,70) rotate(-35)">Недельный Цикл</text>
<text class="lb" x="0" y="0" transform="translate(978,103) rotate(40)">Сезонный Цикл</text>
<text class="lb" x="1093" y="157">Ежедневная Лига</text>
<text class="lb" x="0" y="0" transform="translate(1066,203) rotate(-30)">Повышение</text>
<text class="lb" x="0" y="0" transform="translate(1070,210) rotate(-30)">Уровня Кейсов</text>
<text class="lb" x="0" y="0" transform="translate(1076,222) rotate(-45)">Повышение</text>
<text class="lb" x="0" y="0" transform="translate(1082,226) rotate(-45)">Уровня Предметов</text>

<rect x="912.5" y="46" width="71" height="27" rx="3" fill="#92c3f0" stroke="#5a96d0" stroke-width="1.2"/>
<text x="948" y="62" font-size="9" fill="#223" text-anchor="middle">Кланы</text>
<rect class="r" x="1057" y="50" width="59" height="18" rx="2"/><text class="s" x="1086.5" y="61">Дейли задания</text>
<rect class="r" x="1163" y="50" width="52" height="19" rx="2"/><text class="s" x="1189" y="61">Дейли бонус</text>
<rect class="r" x="1057" y="74" width="59" height="17" rx="2"/><text class="s" x="1086.5" y="84.5">Бой за сундучок</text>
<rect class="r" x="1057" y="96" width="59" height="18" rx="2"/><text class="s" x="1086.5" y="107">Дейли награда</text>

<rect class="w" x="818" y="99" width="72" height="20" rx="3"/><text class="s" x="854" y="111">Оружие и клановые модули</text>
<rect class="y" x="774" y="140" width="49" height="19" rx="2"/><text class="s" x="798" y="151.5">Лут</text>
<rect class="w" x="829" y="165" width="49" height="19" rx="2"/><text class="s" x="853.5" y="173">Клановые</text><text class="s" x="853.5" y="180">модули</text>
<rect class="w" x="891" y="146" width="49" height="18" rx="2"/><text class="s" x="915.5" y="154">Карточки</text><text class="s" x="915.5" y="161">оружия</text>
<rect class="w" x="972" y="140" width="63" height="30" rx="4"/><text class="s" x="1003.5" y="152">Победа в Клановой</text><text class="s" x="1003.5" y="159">Войне</text>
<rect class="w" x="1140" y="122" width="58" height="18" rx="2"/><text class="s" x="1169" y="130">Место в клановом</text><text class="s" x="1169" y="137">рейтинге (Лига)</text>
<rect class="w" x="1234" y="99" width="58" height="12" rx="2"/><text class="s" x="1263" y="107">Золотая лига</text>
<rect class="w" x="1234" y="117" width="58" height="11" rx="2"/><text class="s" x="1263" y="124.5">Сезон. Награда</text>
<rect class="w" x="1234" y="133" width="58" height="11" rx="2"/><text class="s" x="1263" y="140.5">Рейтинговая позиция</text>
<rect class="w" x="1124" y="185" width="74" height="20" rx="3"/><text class="s" x="1161" y="197">Новые чемпионы</text>
<rect class="w" x="1300" y="155" width="49" height="18" rx="2"/><text class="s" x="1324.5" y="166">Бонусы</text>
<rect class="tl" x="1253" y="199" width="42" height="13" rx="2"/><text class="s4" x="1274" y="204.5">Бонусные</text><text class="s4" x="1274" y="209.5">карты</text>
<rect class="tl" x="1304" y="199" width="41" height="13" rx="2"/><text class="s4" x="1324.5" y="204.5">Скидки в</text><text class="s4" x="1324.5" y="209.5">магазине</text>
<rect class="tl" x="1353" y="199" width="41" height="13" rx="2"/><text class="s4" x="1373.5" y="204.5">Бесплатные</text><text class="s4" x="1373.5" y="209.5">спины</text>
<rect class="w" x="993" y="212" width="42" height="15" rx="2"/><text class="s" x="1014" y="221.5">Кейсы</text>
<rect class="w" x="982" y="236" width="63" height="25" rx="3"/><text class="s4" x="1013.5" y="243">Новые</text><text class="s4" x="1013.5" y="249">Внутриигровые предметы</text><text class="s4" x="1013.5" y="255">(уровни)</text>
<rect class="w" x="956" y="295" width="41" height="18" rx="2"/><text class="s4" x="976.5" y="302">Карточки</text><text class="s4" x="976.5" y="308">оружия</text>
<rect class="w" x="1020" y="295" width="40" height="18" rx="2"/><text class="s4" x="1040" y="302">Клановые</text><text class="s4" x="1040" y="308">части</text>
<rect class="y" x="977" y="316" width="27" height="13" rx="2"/><text class="s" x="990.5" y="324.5">Лут</text>
<rect class="y" x="1042" y="316" width="27" height="13" rx="2"/><text class="s" x="1055.5" y="324.5">Скин</text>
<rect class="w" x="845" y="213" width="63" height="29" rx="4"/><text class="s" x="876.5" y="225">Продвижение в Лиге</text><text class="s" x="876.5" y="232">клановой войны</text>
<rect class="tl" x="794" y="258" width="63" height="14" rx="2"/><text class="s" x="825.5" y="267">Клан. Рейтинг</text>
<rect class="r" x="896" y="258" width="76" height="14" rx="2"/><text class="s" x="934" y="267">Новые Клан. награды</text>
<rect class="w" x="842" y="277" width="69" height="26" rx="3"/><text class="s" x="876.5" y="288">Клановая Лига</text><text class="s" x="876.5" y="295">Награды</text>
<rect class="r" x="847" y="319" width="59" height="32" rx="4"/><text class="s" x="876.5" y="329">Карты Улучшения</text><text class="s" x="876.5" y="336">для Форта</text><text class="s" x="876.5" y="343">(Клановый Дракон)</text>
<rect class="r" x="1066" y="253" width="41" height="14" rx="2"/><text class="s4" x="1086.5" y="261.5">Сетевой режим</text>
<rect class="r" x="1066" y="271" width="41" height="14" rx="2"/><text class="s4" x="1086.5" y="276.5">Клановый</text><text class="s4" x="1086.5" y="281.5">турнир</text>
<rect class="w" x="1137" y="273" width="47" height="14" rx="2"/><text class="s4" x="1160.5" y="278.5">Новые</text><text class="s4" x="1160.5" y="284">Подземелья</text>
<rect class="y" x="1109" y="299" width="42" height="13" rx="2"/><text class="s4" x="1130" y="307">Новое оружие</text>
<rect class="y" x="1171" y="299" width="41" height="13" rx="2"/><text class="s4" x="1191.5" y="307">Новые скины</text>
<rect class="y" x="1132" y="317" width="26" height="13" rx="2"/><text class="s4" x="1145" y="325">Лут</text>
<rect class="y" x="1193" y="317" width="26" height="13" rx="2"/><text class="s4" x="1206" y="325">Скин</text>
<rect class="y" x="1194" y="259" width="40" height="14" rx="2"/><text class="s4" x="1214" y="267.5">Новое</text>
<rect class="y" x="1207" y="273" width="27" height="14" rx="2"/><text class="s4" x="1220.5" y="281.5">Скин</text>
<rect class="y" x="1240" y="259" width="34" height="14" rx="2"/><text class="s4" x="1257" y="267.5">Оружие</text>
<rect class="y" x="1248" y="273" width="26" height="14" rx="2"/><text class="s4" x="1261" y="281.5">Лут</text>
<rect class="tl" x="1281" y="259" width="38" height="14" rx="2"/><text class="s4" x="1300" y="267.5">Промо</text>
<rect class="tl" x="1281" y="273" width="60" height="14" rx="2"/><text class="s4" x="1311" y="281.5">Стартовый пак</text>

<!-- ================= ТРАТЫ ИГРОКА ================= -->
<text x="996" y="404" font-size="17" fill="#444" text-anchor="middle">Траты игрока</text>
<g class="t">
<path d="M957,421 H950 V432 H945" marker-end="url(#ga)"/>
<path d="M997,430 V442" marker-end="url(#ga)"/>
<path d="M1038,421 H1105 V442" marker-end="url(#ga)"/>
<path d="M903,441 V452 H884" marker-end="url(#ga)"/>
<path d="M1155,453 H1165" marker-end="url(#ga)"/>
<path d="M878,489 V546" marker-end="url(#ga)"/>
<path d="M878,494 H858 V500" marker-end="url(#ga)"/>
<path d="M878,496 H897 V510" marker-end="url(#ga)"/>
<path d="M1051,504 V515 H1023 V522" marker-end="url(#ga)"/>
<path d="M1051,515 H1069 V522" marker-end="url(#ga)"/>
<path d="M1048,504 V540 H1041 V545" marker-end="url(#ga)"/>
<path d="M1054,504 V555 H1066 V563" marker-end="url(#ga)"/>
<path d="M1154,489 V496 H1225 V500" marker-end="url(#ga)"/>
<path d="M1154,496 V500" marker-end="url(#ga)"/>
<path d="M1190,496 V500" marker-end="url(#ga)"/>
<path d="M1154,496 H1131 V529" marker-end="url(#ga)"/>
<path d="M878,468 V475" marker-end="url(#ga)"/>
<path d="M941,468 V475" marker-end="url(#ga)"/>
<path d="M996,468 V475" marker-end="url(#ga)"/>
<path d="M1051,468 V475" marker-end="url(#ga)"/>
<path d="M1102,468 V475" marker-end="url(#ga)"/>
<path d="M1154,468 V475" marker-end="url(#ga)"/>
</g>
<path d="M997,462 V468" stroke="#222" stroke-width="2.2" fill="none"/>
<path d="M878,468 H1154" stroke="#444" stroke-width="1.6" fill="none"/>
<rect class="w" x="957" y="414" width="81" height="16" rx="3"/><text x="997.5" y="426" font-size="10" fill="#333" text-anchor="middle">Траты игрока</text>
<rect class="w" x="862" y="424" width="81" height="17" rx="3"/><text class="s" x="902.5" y="434.5">Фарм</text>
<rect class="b" x="827" y="444" width="55" height="17" rx="3"/><text class="s4" x="854.5" y="451">Улучшение</text><text class="s4" x="854.5" y="457">персонажа и оружия</text>
<rect class="w" x="947" y="444" width="100" height="18" rx="3"/><text class="s" x="997" y="455">Основные покупки</text>
<rect class="w" x="1056" y="444" width="99" height="18" rx="3"/><text class="s" x="1105.5" y="455">Доп. покупки</text>
<rect class="yl" x="1167" y="444" width="33" height="18" rx="3"/><text class="s4" x="1183.5" y="451.5">Премиум</text><text class="s4" x="1183.5" y="457.5">наборы</text>
<rect class="w" x="856" y="477" width="44" height="12" rx="2"/><text class="s" x="878" y="485">Оружие</text>
<rect class="yl" x="917" y="477" width="49" height="18" rx="3"/><text class="s" x="941.5" y="484.5" font-weight="bold">Эксклюзивные</text><text class="s" x="941.5" y="491.5">Оружия</text>
<rect class="yl" x="972" y="477" width="48" height="18" rx="3"/><text class="s" x="996" y="484.5" font-weight="bold">Эксклюзивные</text><text class="s" x="996" y="491.5">Скины</text>
<rect class="w" x="1028" y="477" width="46" height="27" rx="4"/><text class="s" x="1051" y="488">Дополнительные</text><text class="s" x="1051" y="495">Дары</text>
<rect class="yl" x="1081" y="477" width="43" height="23" rx="3"/><text class="s4" x="1102.5" y="486">Клановые ресурсы</text><text class="s4" x="1102.5" y="492">и улучшения</text>
<rect class="w" x="1132" y="477" width="44" height="12" rx="2"/><text class="s" x="1154" y="485">Кейсы</text>
<rect class="yl" x="845" y="502" width="27" height="22" rx="3"/><text class="s4" x="858.5" y="509">Первый</text><text class="s4" x="858.5" y="514">взнос в</text><text class="s4" x="858.5" y="519">магазин</text>
<rect class="b" x="883" y="512" width="29" height="30" rx="5"/><text class="s4" x="897.5" y="525">Апгрейд</text><text class="s4" x="897.5" y="531">оружия</text>
<rect class="p" x="864" y="548" width="28" height="24" rx="3"/><text class="s4" x="878" y="556">Сундуки</text><text class="s4" x="878" y="561">редких</text><text class="s4" x="878" y="566">вещей</text>
<rect class="b" x="1009" y="524" width="28" height="13" rx="2"/><text class="s4" x="1023" y="532">Скины</text>
<rect class="b" x="1056" y="524" width="27" height="13" rx="2"/><text class="s4" x="1069.5" y="532">Гаджеты</text>
<rect class="b" x="1021" y="547" width="40" height="13" rx="2"/><text class="s4" x="1041" y="552.5">Ключи</text><text class="s4" x="1041" y="557.5">от сундуков</text>
<rect class="b" x="1052" y="565" width="28" height="14" rx="2"/><text class="s4" x="1066" y="573.5">Питомцы</text>
<rect class="p" x="1140" y="502" width="27" height="12" rx="2"/><text class="s4" x="1153.5" y="509.5">Лут-бокс</text>
<rect class="b" x="1176" y="502" width="27" height="12" rx="2"/><text class="s4" x="1189.5" y="509.5">Кейсы</text>
<rect class="b" x="1212" y="502" width="27" height="12" rx="2"/><text class="s4" x="1225.5" y="509.5">Скины</text>
<rect class="b" x="1116" y="531" width="30" height="51" rx="5"/><text class="s4" x="1131" y="540">Доп. сундуки</text><text class="s4" x="1131" y="546">за рейтинг</text><text class="s4" x="1131" y="552">в лиге</text><text class="s4" x="1131" y="558">клана</text><text class="s4" x="1131" y="564">при</text><text class="s4" x="1131" y="570">улучшении</text><text class="s4" x="1131" y="576">форта</text>

<!-- ================= КЛАНОВЫЙ ЦИКЛ ================= -->
<text x="1058" y="646" font-size="12.5" fill="#444" text-anchor="middle">Клановый цикл</text>
<g class="k">
<path d="M1013,677 C965,677 937,690 937,721"/>
<path d="M1103,677 C1140,677 1157,690 1157,726" marker-end="url(#ga)"/>
<path d="M1157,768 C1157,810 1145,824 1121,824"/>
<path d="M1019,824 C965,824 937,810 937,778" marker-end="url(#ga)"/>
</g>
<rect class="ol" x="1013" y="660" width="90" height="34" rx="5"/>
<text class="s4" x="1058" y="676" font-style="italic" font-weight="bold">Улучшение форта, танка,</text>
<text class="s4" x="1058" y="682" font-style="italic" font-weight="bold">бонусы на глобальной карте</text>
<rect class="ol" x="852" y="722" width="170" height="54" rx="7"/>
<text class="s4" x="937" y="730">Конвертация клинбаксов и щитов в награду</text>
<rect class="gr" x="855" y="735" width="77" height="34" rx="5"/>
<text class="s4" x="893.5" y="746" font-weight="bold">За щиты получаем</text>
<text class="s4" x="893.5" y="751" font-weight="bold">вознаграждения в лидерборде</text>
<text class="s4" x="893.5" y="756" font-weight="bold">(чем больше клановых ?</text>
<text class="s4" x="893.5" y="761" fill="#777">лучше награда)</text>
<rect class="gr" x="940" y="735" width="78" height="34" rx="5"/>
<text class="s4" x="979" y="748">За клинбаксы получаем</text>
<text class="s4" x="979" y="753">вознаграждения в магазине</text>
<text class="s4" x="979" y="758">(через стандартные функции)</text>
<rect class="ol" x="1072" y="728" width="170" height="40" rx="7"/>
<text class="s4" x="1157" y="735.5">Активности на карте</text>
<rect class="gr" x="1086" y="743" width="41" height="20" rx="3"/>
<text class="s4" x="1106.5" y="750">Захват территорий</text><text class="s4" x="1106.5" y="755">(Карта клана</text><text class="s4" x="1106.5" y="760">в бою)</text>
<rect class="gr" x="1131" y="743" width="47" height="20" rx="3"/>
<text class="s4" x="1154.5" y="750">Защита базы</text><text class="s4" x="1154.5" y="755">(Отражение атак</text><text class="s4" x="1154.5" y="760">на клановые форты)</text>
<rect class="gr" x="1182" y="743" width="50" height="20" rx="3"/>
<text class="s4" x="1207" y="750">Атаки</text><text class="s4" x="1207" y="755">(Нападение на</text><text class="s4" x="1207" y="760">другие кланы)</text>
<rect class="ol" x="1019" y="815" width="100" height="18" rx="4"/>
<text class="s4" x="1069" y="826" font-weight="bold">Получение щитов и клинбаксов</text>
</svg>
</body></html>
